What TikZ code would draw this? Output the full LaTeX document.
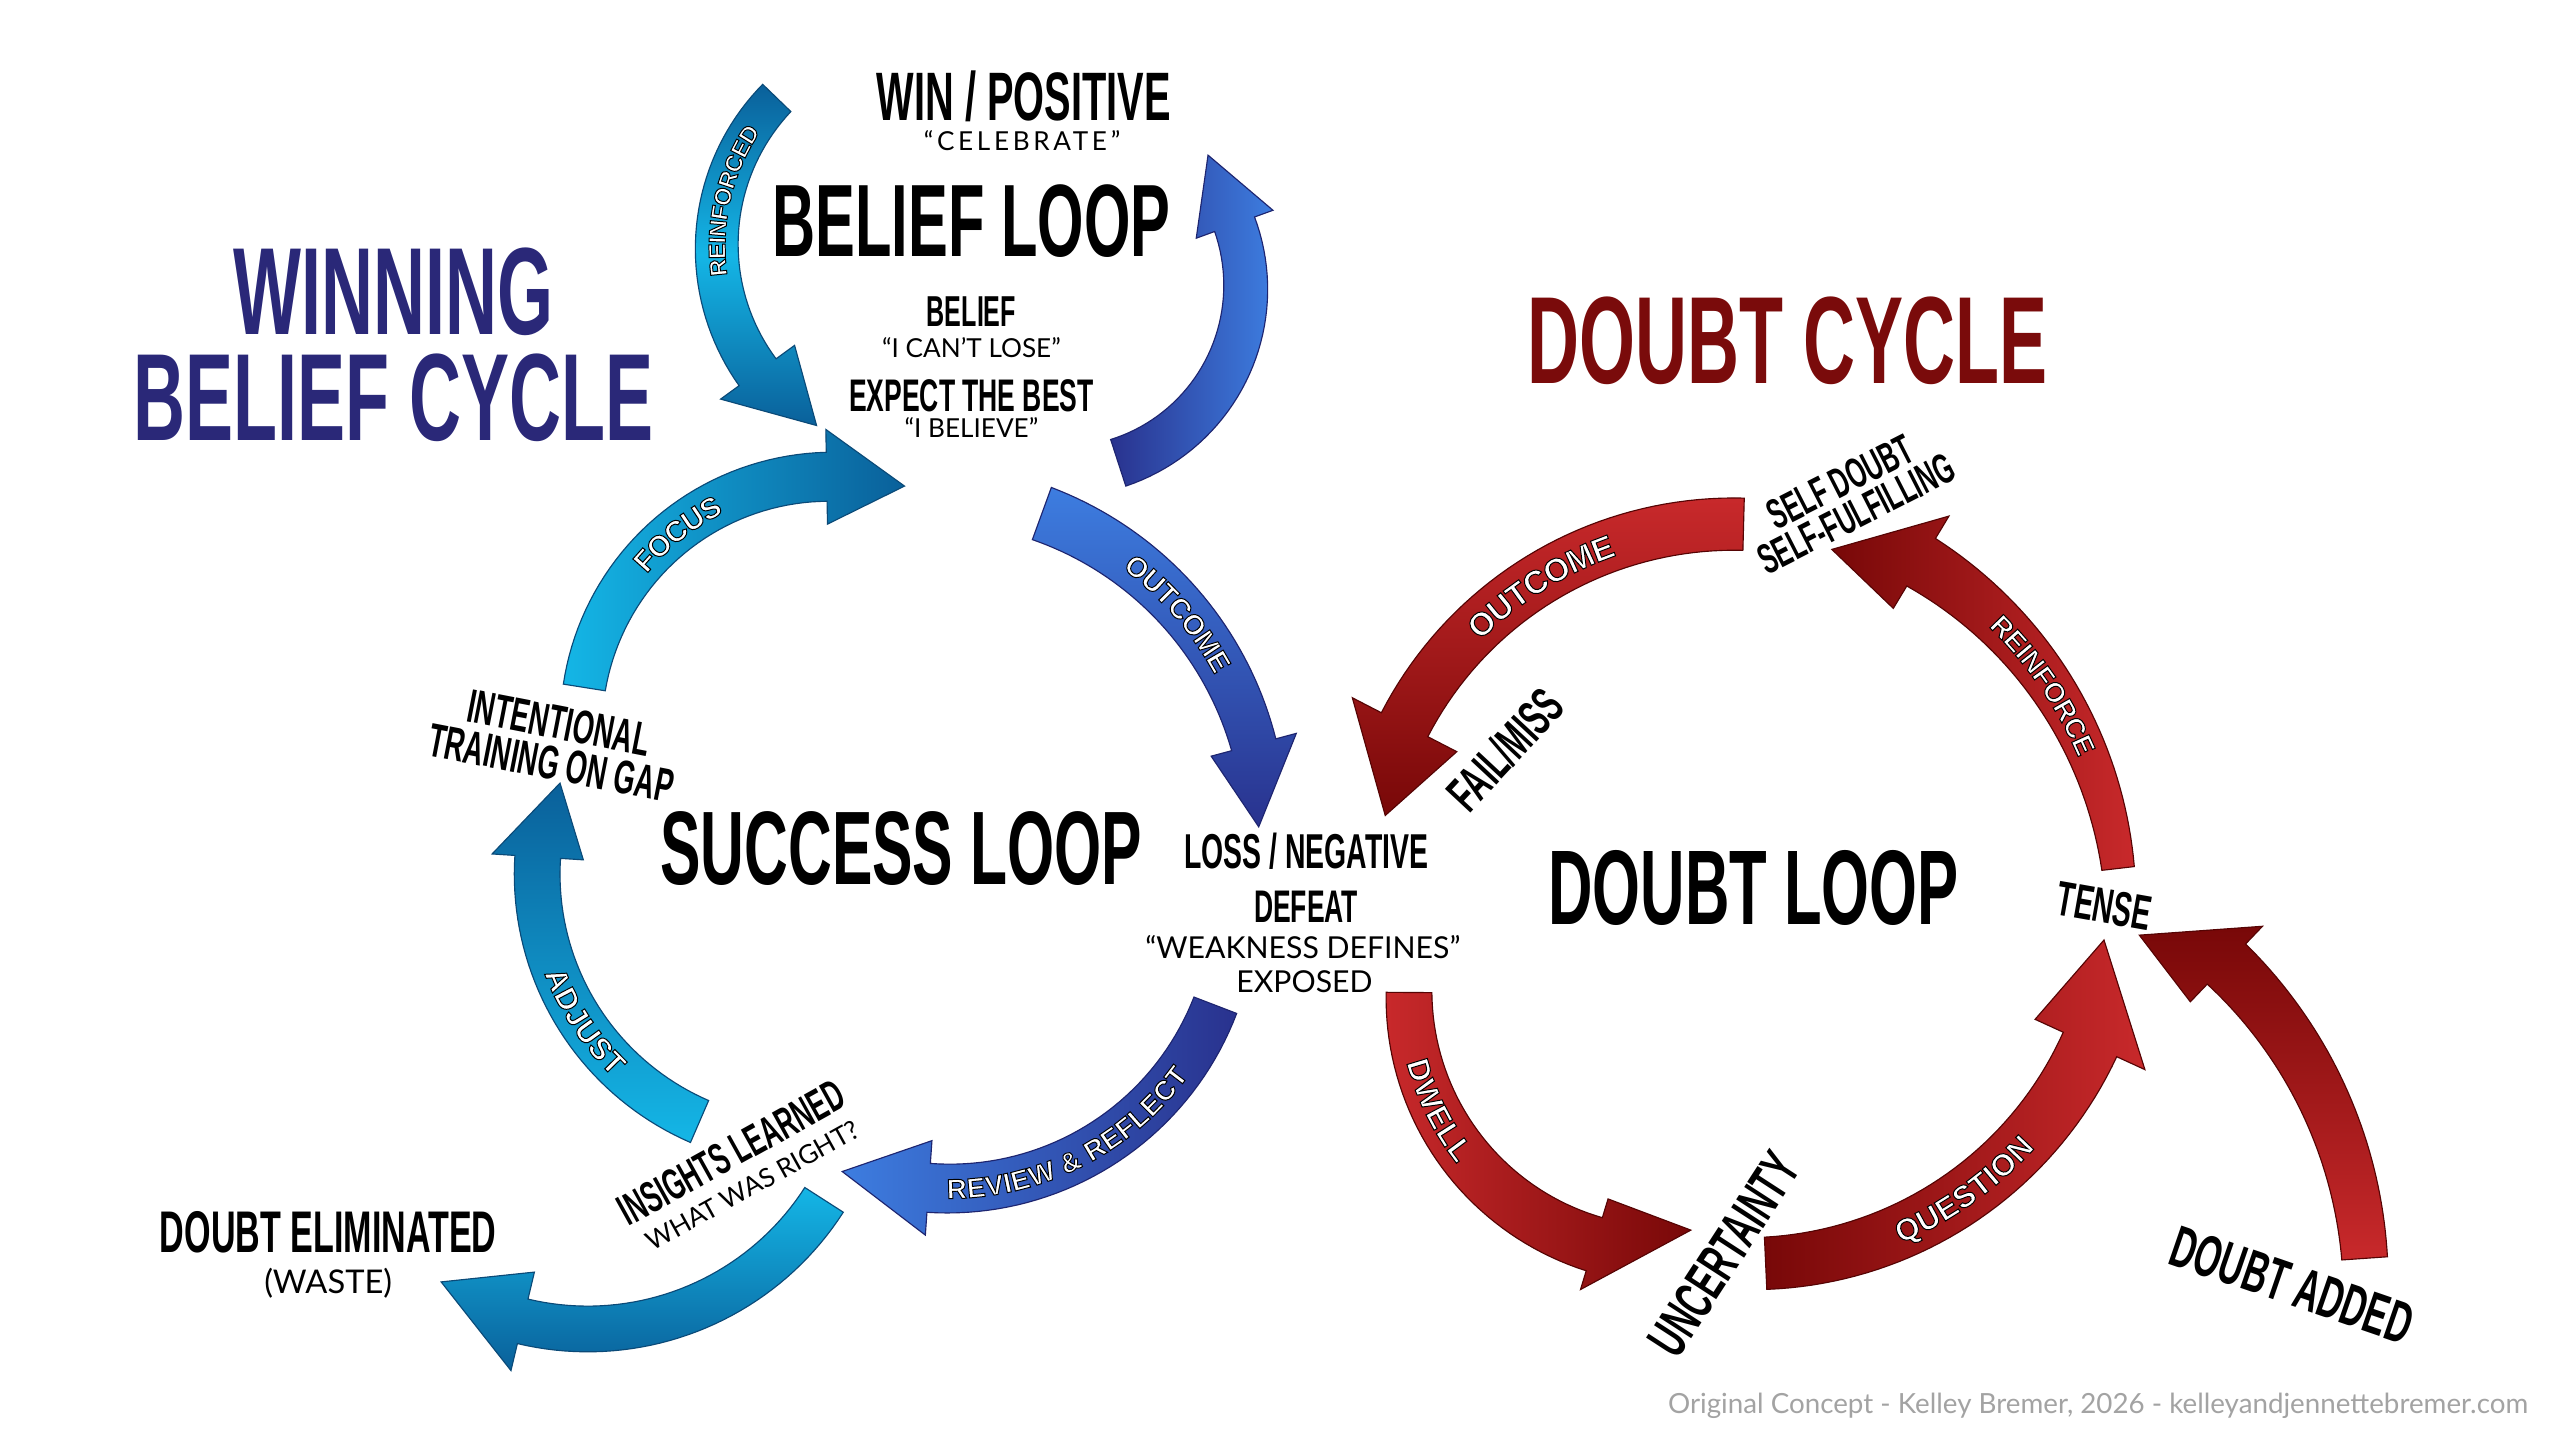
\documentclass[tikz,border=0pt]{standalone}
\usepackage{fontspec}
\usetikzlibrary{decorations.text}
\newfontfamily\hd{Liberation Sans}[FakeStretch=0.58]
\newfontfamily\lb{Liberation Sans}
\newfontfamily\lt{Lato}
\definecolor{navy}{HTML}{2A2878}
\definecolor{dred}{HTML}{7A0B0B}
\definecolor{cyL}{HTML}{14B6E6}
\definecolor{cyD}{HTML}{0A609A}
\definecolor{cyO}{HTML}{0B4A78}
\definecolor{bvL}{HTML}{3D7DE0}
\definecolor{bvD}{HTML}{29328E}
\definecolor{bvO}{HTML}{1E2570}
\definecolor{rdL}{HTML}{C8292B}
\definecolor{rdD}{HTML}{780808}
\definecolor{rdO}{HTML}{550404}
\definecolor{foot}{HTML}{A3A3A3}
\newcommand\HS[1]{\hd\bfseries\fontsize{#1}{#1}\selectfont}
\newcommand\LT[1]{\lt\fontsize{#1}{#1}\selectfont}
% curved arrow: style, centre, radius, tail angle, base angle, tip (angle:radius), tail width, base width, head width
\newcommand\carrow[9]{%
 \pgfmathsetmacro\hro{#3+#9/2}\pgfmathsetmacro\hri{#3-#9/2}%
 \pgfmathsetmacro\bri{#3-#8/2}%
 \path[shift={(#2)},line width=0.7pt,#1]
  plot[domain=#4:#5,samples=40,variable=\t] (\t:{#3+((#7)+((#8)-(#7))*(\t-(#4))/((#5)-(#4)))/2})
  -- (#5:\hro) -- (#6) -- (#5:\hri) -- (#5:\bri)
  -- plot[domain=#5:#4,samples=40,variable=\t] (\t:{#3-((#7)+((#8)-(#7))*(\t-(#4))/((#5)-(#4)))/2})
  -- cycle;}
% label along an arrow: centre, radius, start angle, end angle, size, text
\newcommand\alabel[6]{%
 \pgfmathsetmacro\rz{-0.36*#5}%
 \path[shift={(#1)},decorate,decoration={text along path,text align=center,raise=\rz pt,
   text={|\lb\bfseries\fontsize{#5}{#5}\selectfont\color{white}\special{pdf:literal direct 0 0 0 RG 2 Tr 0.6 w}|#6}}]
   (#3:#2) arc[start angle=#3,end angle=#4,radius=#2];
 \special{pdf:literal direct 0 Tr}}
\begin{document}
\begin{tikzpicture}[x=1pt,y=-1pt]
\useasboundingbox (0,0) rectangle (1568,882);
\fill[white] (0,0) rectangle (1568,882);

% ---- blue arrows
\carrow{draw=cyO,top color=cyD,bottom color=cyD,middle color=cyL}{570,151}{131}{224}{144}{122.5:130}{24}{28}{56}
\carrow{draw=bvO,left color=bvD,right color=bvL}{650,176}{113}{72}{-20}{-42:121}{30}{26}{50}
\carrow{draw=cyO,left color=cyL,right color=cyD}{509,445}{153}{189}{269}{287:154}{26}{30}{58}
\carrow{draw=bvO,top color=bvL,bottom color=bvD}{567,510}{208}{-70}{-15}{-1:204}{34}{28}{54}
\carrow{draw=bvO,left color=bvL,right color=bvD}{581,553}{175}{21}{94}{111.6:177}{28}{30}{58}
\carrow{draw=cyO,bottom color=cyL,top color=cyD}{494,535.5}{165}{113.4}{183.7}{200.3:161}{28}{28}{56}
\carrow{draw=cyO,top color=cyL,bottom color=cyD}{360,642}{172}{32.7}{103.4}{122.1:169}{28}{28}{62}
% ---- red arrows
\carrow{draw=rdO,top color=rdL,bottom color=rdD}{1062,548}{227}{271.5}{207.3}{192.8:219}{32}{32}{72}
\carrow{draw=rdO,left color=rdD,right color=rdL}{1046,561}{253}{-6.6}{-58.9}{-71.3:237}{20}{34}{66}
\carrow{draw=rdO,left color=rdL,right color=rdD}{1023,609}{160}{180.4}{106.9}{85:145}{28}{34}{58}
\carrow{draw=rdO,left color=rdD,right color=rdL}{1071,544}{230}{87.4}{24.6}{8.3:220}{32}{36}{74}
\carrow{draw=rdO,bottom color=rdL,top color=rdD}{1173,790}{276}{-4}{-46.3}{-57.7:257}{28}{34}{64}

% ---- labels on arrows
\alabel{570,151}{131}{160}{226}{14.5}{REINFORCED}
\alabel{509,445}{153}{206}{257}{18}{FOCUS}
\alabel{567,510}{208}{-66}{-16}{17.5}{OUTCOME}
\alabel{581,553}{175}{104}{22}{17}{REVIEW {\&} REFLECT}
\alabel{494,535.5}{165}{181}{112}{18.5}{ADJUST}
\alabel{1062,548}{227}{213}{263}{20}{OUTCOME}
\alabel{1046,561}{253}{-59}{-10}{17}{REINFORCE}
\alabel{1023,609}{160}{183}{124}{19}{DWELL}
\alabel{1071,544}{230}{82}{27}{19}{QUESTION}

% ---- titles
\node[anchor=base,text=navy,font=\HS{76}] (t1) at (241,205) {WINNING};
\node[anchor=base,text=navy,font=\HS{76}] (t2) at (241,270) {BELIEF CYCLE};
\node[anchor=base,text=dred,font=\HS{76}] (t3) at (1095,235) {DOUBT CYCLE};

% ---- belief loop texts
\node[anchor=base,font=\HS{42}] (win) at (627,74) {WIN / POSITIVE};
\node[anchor=base,font=\LT{16}] (cel) at (626,92) {\addfontfeatures{LetterSpace=14}“CELEBRATE”};
\node[anchor=base,font=\HS{63}] (bl) at (595,157) {BELIEF LOOP};
\node[anchor=base,font=\HS{26.5}] (bel) at (595,200) {BELIEF};
\node[anchor=base,font=\LT{16}] (cant) at (595,219) {“I CAN’T LOSE”};
\node[anchor=base,font=\HS{28}] (exp) at (595,252) {EXPECT THE BEST};
\node[anchor=base,font=\LT{16}] (ib) at (595,268) {“I BELIEVE”};

% ---- success loop texts
\node[anchor=base,font=\HS{64}] (sl) at (552,542) {SUCCESS LOOP};
\node[rotate=-11,align=center,font=\HS{29}] (itg) at (340,455) {INTENTIONAL\\[-4pt]TRAINING ON GAP};
\node[anchor=base,font=\HS{30}] (loss) at (800,532) {LOSS / NEGATIVE};
\node[anchor=base,font=\HS{28}] (def) at (800,565) {DEFEAT};
\node[anchor=base,font=\LT{18.5}] (wd) at (798,587) {“WEAKNESS DEFINES”};
\node[anchor=base,font=\LT{18.5}] (expo) at (799,608) {EXPOSED};
\node[rotate=29,font=\HS{27}] (ins) at (448,706) {INSIGHTS LEARNED};
\node[rotate=29,font=\LT{16}] (wwr) at (461,726) {WHAT WAS RIGHT?};
\node[anchor=base,font=\HS{36}] (de) at (201,767) {DOUBT ELIMINATED};
\node[anchor=base,font=\LT{20}] (waste) at (201,792) {(WASTE)};

% ---- doubt loop texts
\node[anchor=base,font=\HS{65}] (dl) at (1074,566) {DOUBT LOOP};
\node[rotate=27,align=center,font=\HS{26}] (sd) at (1132,305) {SELF DOUBT\\[-4pt]SELF-FULFILLING};
\node[rotate=47,font=\HS{31}] (fm) at (922,459) {FAIL/MISS};
\node[rotate=-10,font=\HS{30}] (tense) at (1289,555) {TENSE};
\node[rotate=57,font=\HS{34}] (unc) at (1056,768) {UNCERTAINTY};
\node[rotate=-19,font=\HS{36}] (da) at (1404,787) {DOUBT ADDED};

\node[anchor=base east,font=\LT{17},text=foot] (ft) at (1552,866) {Original Concept - Kelley Bremer, 2026 - kelleyandjennettebremer.com};
\end{tikzpicture}
\end{document}
